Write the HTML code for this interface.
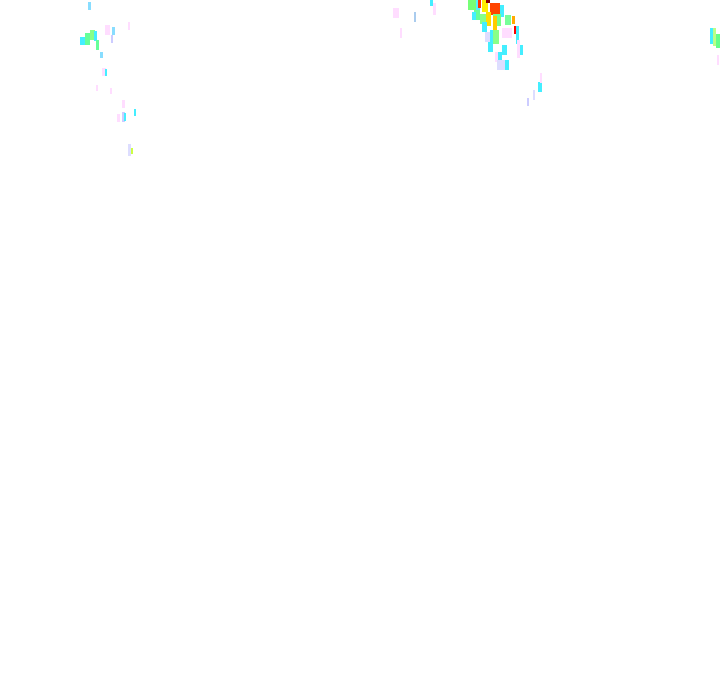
<!DOCTYPE html>
<html><head><meta charset="utf-8"><style>
html,body{margin:0;padding:0;background:#fff;width:720px;height:692px;overflow:hidden;position:relative}
i{position:absolute;display:block}
</style></head><body>
<i style="left:468px;top:0;width:8px;height:10px;background:#7f7"></i>
<i style="left:476px;top:0;width:4px;height:10px;background:#5ef"></i>
<i style="left:478px;top:0;width:3px;height:8px;background:#f30"></i>
<i style="left:482px;top:0;width:6px;height:12px;background:#fe0"></i>
<i style="left:486px;top:0;width:4px;height:3px;background:#800"></i>
<i style="left:490px;top:3px;width:10px;height:12px;background:#f40"></i>
<i style="left:500px;top:5px;width:4px;height:12px;background:#4ef"></i>
<i style="left:474px;top:10px;width:6px;height:10px;background:#6f9"></i>
<i style="left:472px;top:12px;width:4px;height:8px;background:#4ef"></i>
<i style="left:486px;top:12px;width:5px;height:14px;background:#fd0"></i>
<i style="left:480px;top:14px;width:6px;height:10px;background:#8f8"></i>
<i style="left:493px;top:14px;width:8px;height:12px;background:#7f8"></i>
<i style="left:493px;top:16px;width:4px;height:14px;background:#fc0"></i>
<i style="left:505px;top:15px;width:6px;height:10px;background:#7f9"></i>
<i style="left:512px;top:16px;width:3px;height:8px;background:#fa0"></i>
<i style="left:514px;top:26px;width:2px;height:8px;background:#f00"></i>
<i style="left:516px;top:26px;width:3px;height:18px;background:#4ef"></i>
<i style="left:502px;top:28px;width:10px;height:10px;background:#fdf"></i>
<i style="left:482px;top:22px;width:5px;height:10px;background:#4ef"></i>
<i style="left:490px;top:30px;width:5px;height:12px;background:#4ef"></i>
<i style="left:493px;top:30px;width:6px;height:14px;background:#8f8"></i>
<i style="left:485px;top:32px;width:5px;height:10px;background:#ddf"></i>
<i style="left:488px;top:42px;width:5px;height:10px;background:#4ef"></i>
<i style="left:502px;top:45px;width:5px;height:10px;background:#4ef"></i>
<i style="left:495px;top:52px;width:6px;height:10px;background:#fdf"></i>
<i style="left:498px;top:52px;width:4px;height:10px;background:#4ef"></i>
<i style="left:497px;top:60px;width:8px;height:10px;background:#ddf"></i>
<i style="left:505px;top:60px;width:4px;height:10px;background:#4ef"></i>
<i style="left:517px;top:40px;width:3px;height:18px;background:#fdf"></i>
<i style="left:520px;top:45px;width:3px;height:10px;background:#4ef"></i>
<i style="left:538px;top:82px;width:4px;height:10px;background:#4ef"></i>
<i style="left:540px;top:73px;width:2px;height:10px;background:#fdf"></i>
<i style="left:533px;top:90px;width:2px;height:10px;background:#ddf"></i>
<i style="left:527px;top:98px;width:2px;height:8px;background:#ccf"></i>
<i style="left:393px;top:8px;width:6px;height:10px;background:#fdf"></i>
<i style="left:400px;top:28px;width:2px;height:10px;background:#fdf"></i>
<i style="left:414px;top:12px;width:2px;height:10px;background:#ace"></i>
<i style="left:430px;top:0;width:3px;height:6px;background:#4ef"></i>
<i style="left:433px;top:3px;width:3px;height:12px;background:#fdf"></i>
<i style="left:88px;top:2px;width:3px;height:8px;background:#8df"></i>
<i style="left:80px;top:37px;width:5px;height:8px;background:#4ef"></i>
<i style="left:85px;top:33px;width:5px;height:12px;background:#6f9"></i>
<i style="left:90px;top:30px;width:5px;height:10px;background:#8f8"></i>
<i style="left:94px;top:31px;width:3px;height:10px;background:#4ef"></i>
<i style="left:96px;top:40px;width:3px;height:10px;background:#6f9"></i>
<i style="left:105px;top:25px;width:5px;height:10px;background:#fdf"></i>
<i style="left:112px;top:27px;width:3px;height:8px;background:#8df"></i>
<i style="left:111px;top:35px;width:2px;height:8px;background:#ccf"></i>
<i style="left:128px;top:22px;width:2px;height:8px;background:#fdf"></i>
<i style="left:100px;top:52px;width:3px;height:6px;background:#8df"></i>
<i style="left:102px;top:68px;width:4px;height:8px;background:#fdf"></i>
<i style="left:105px;top:69px;width:2px;height:7px;background:#4ef"></i>
<i style="left:96px;top:85px;width:2px;height:6px;background:#fdf"></i>
<i style="left:110px;top:88px;width:2px;height:6px;background:#fdf"></i>
<i style="left:122px;top:100px;width:3px;height:8px;background:#fdf"></i>
<i style="left:117px;top:114px;width:3px;height:8px;background:#fdf"></i>
<i style="left:122px;top:112px;width:3px;height:10px;background:#ccf"></i>
<i style="left:124px;top:113px;width:2px;height:8px;background:#4ef"></i>
<i style="left:134px;top:109px;width:2px;height:7px;background:#4ef"></i>
<i style="left:128px;top:144px;width:3px;height:12px;background:#ddf"></i>
<i style="left:131px;top:148px;width:2px;height:6px;background:#cf4"></i>
<i style="left:710px;top:28px;width:4px;height:16px;background:#4ef"></i>
<i style="left:713px;top:28px;width:3px;height:18px;background:#bf8"></i>
<i style="left:716px;top:34px;width:4px;height:14px;background:#6f8"></i>
<i style="left:717px;top:55px;width:2px;height:10px;background:#fdf"></i>
</body></html>
